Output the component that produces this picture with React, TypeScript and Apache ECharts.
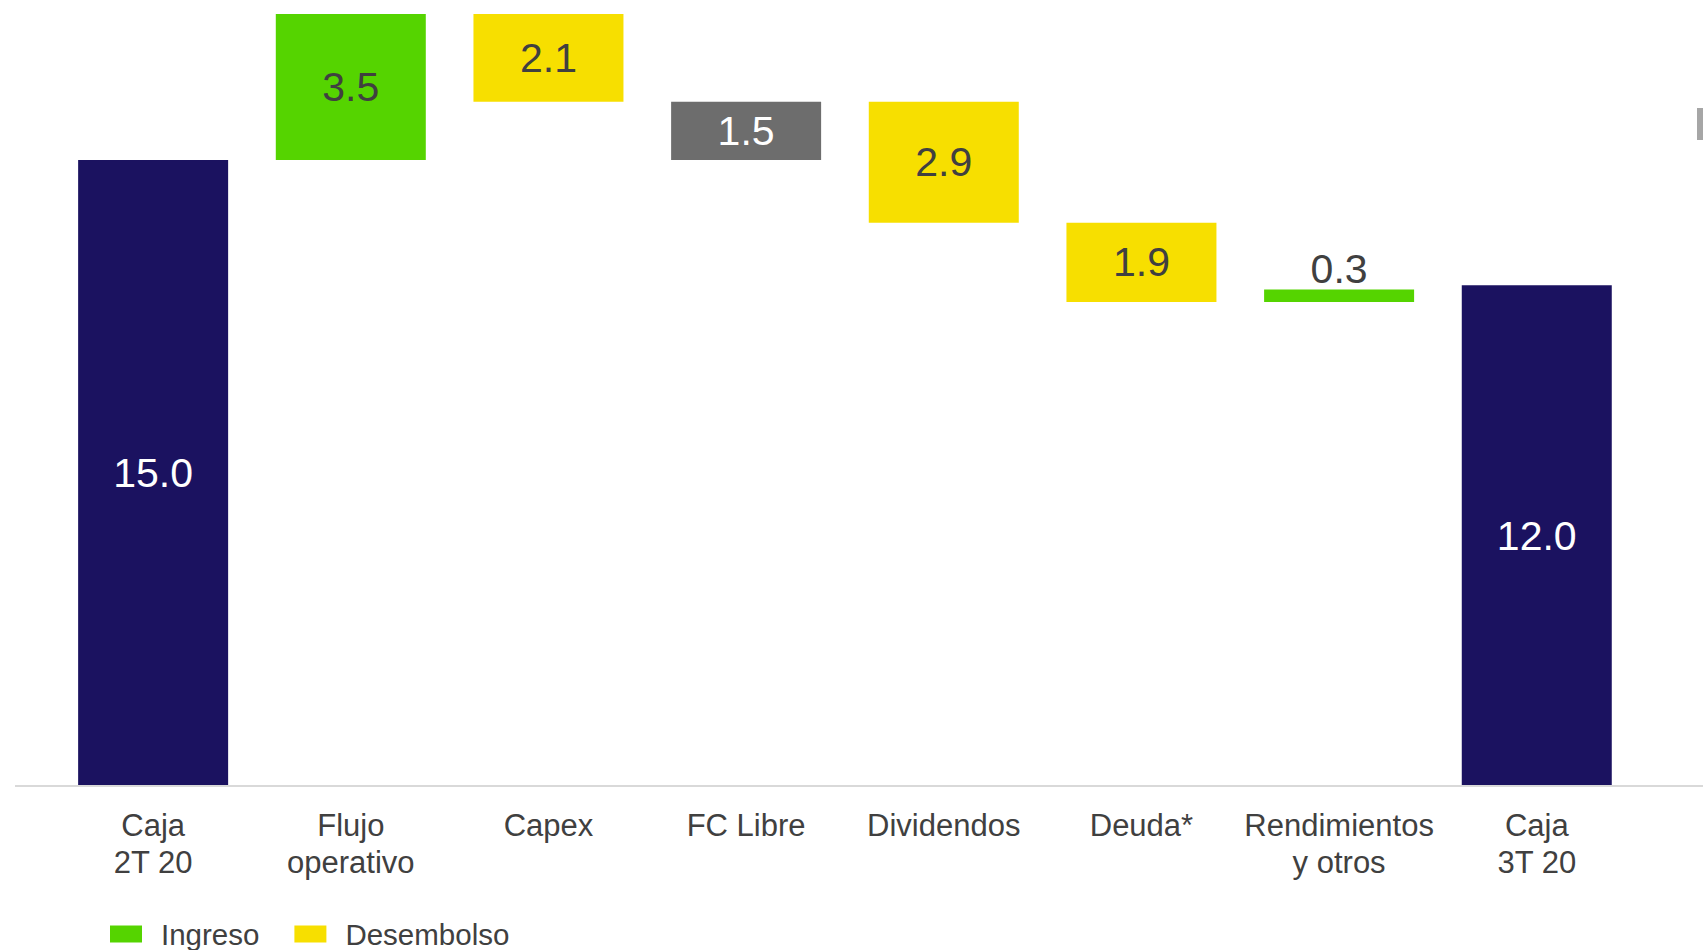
import React, { useEffect, useRef } from "react";
import * as echarts from "echarts";

const categories = ["Caja\n2T 20", "Flujo\noperativo", "Capex", "FC Libre", "Dividendos", "Deuda*", "Rendimientos\ny otros", "Caja\n3T 20"];
const labelValues = [15.0, 3.5, 2.1, 1.5, 2.9, 1.9, 0.3, 12.0];
const barBases = [0, 15.0, 16.4, 15.0, 13.5, 11.6, 11.6, 0];
const barHeights = [15.0, 3.5, 2.1, 1.4, 2.9, 1.9, 0.3, 12.0];
const barTypes = ["Caja", "Ingreso", "Desembolso", "FC", "Desembolso", "Desembolso", "Ingreso", "Caja"];
const legendNames = ["Ingreso", "Desembolso"];

const COLORS: Record<string, string> = {
  Caja: "#1b1260",
  Ingreso: "#55d400",
  Desembolso: "#f7df00",
  FC: "#6d6d6d",
};
const LABEL_COLORS: Record<string, string> = {
  Caja: "#ffffff",
  Ingreso: "#404040",
  Desembolso: "#404040",
  FC: "#ffffff",
};

const FONT = "'Liberation Sans', Arial, sans-serif";

export default function App() {
  const ref = useRef<HTMLDivElement>(null);
  useEffect(() => {
    if (!ref.current) return;
    const chart = echarts.init(ref.current, undefined, { renderer: "svg" });

    const typeOrder = ["Caja", "Ingreso", "Desembolso", "FC"];
    const visibleSeries = typeOrder.map((t) => ({
      name: t,
      type: "bar",
      stack: "wf",
      barWidth: 150,
      itemStyle: { color: COLORS[t] },
      data: barHeights.map((h, i) => {
        if (barTypes[i] !== t) return "-";
        const small = h < 0.5;
        return {
          value: h,
          label: {
            show: true,
            position: small ? "top" : "inside",
            distance: small ? 0 : 5,
            formatter: labelValues[i].toFixed(1),
            color: small ? "#404040" : LABEL_COLORS[t],
            fontSize: 41,
            fontFamily: FONT,
          },
        };
      }),
    }));

    chart.setOption({
      animation: false,
      textStyle: { fontFamily: FONT },
      grid: { left: 54.3, right: 67.4, top: 14, bottom: 164 },
      legend: {
        data: legendNames,
        left: 105,
        top: 913,
        itemWidth: 32,
        itemHeight: 17,
        itemGap: 35,
        icon: "rect",
        selectedMode: false,
        textStyle: {
          fontSize: 29.5,
          color: "#404040",
          fontFamily: FONT,
          lineHeight: 32,
          padding: [0, 0, 0, 14],
        },
      },
      xAxis: {
        type: "category",
        data: categories,
        axisLine: { show: false },
        axisTick: { show: false },
        axisLabel: {
          interval: 0,
          margin: 21,
          fontSize: 31,
          lineHeight: 37,
          color: "#404040",
          fontFamily: FONT,
        },
      },
      yAxis: {
        type: "value",
        min: 0,
        max: 18.5,
        show: false,
        splitLine: { show: false },
      },
      graphic: [
        {
          type: "line",
          z: 100,
          shape: { x1: 15, y1: 786, x2: 1703, y2: 786 },
          style: { stroke: "#d9d9d9", lineWidth: 2 },
        },
        {
          type: "rect",
          shape: { x: 1697, y: 108, width: 6, height: 32 },
          style: { fill: "#a6a6a6" },
        },
      ],
      series: [
        {
          name: "base",
          type: "bar",
          stack: "wf",
          barWidth: 150,
          silent: true,
          itemStyle: { color: "transparent" },
          data: barBases,
        },
        ...visibleSeries,
      ],
    });
    return () => chart.dispose();
  }, []);
  return (
    <div
      ref={ref}
      style={{ position: "fixed", left: 0, top: 0, width: 1703, height: 950, background: "#fff" }}
    />
  );
}
